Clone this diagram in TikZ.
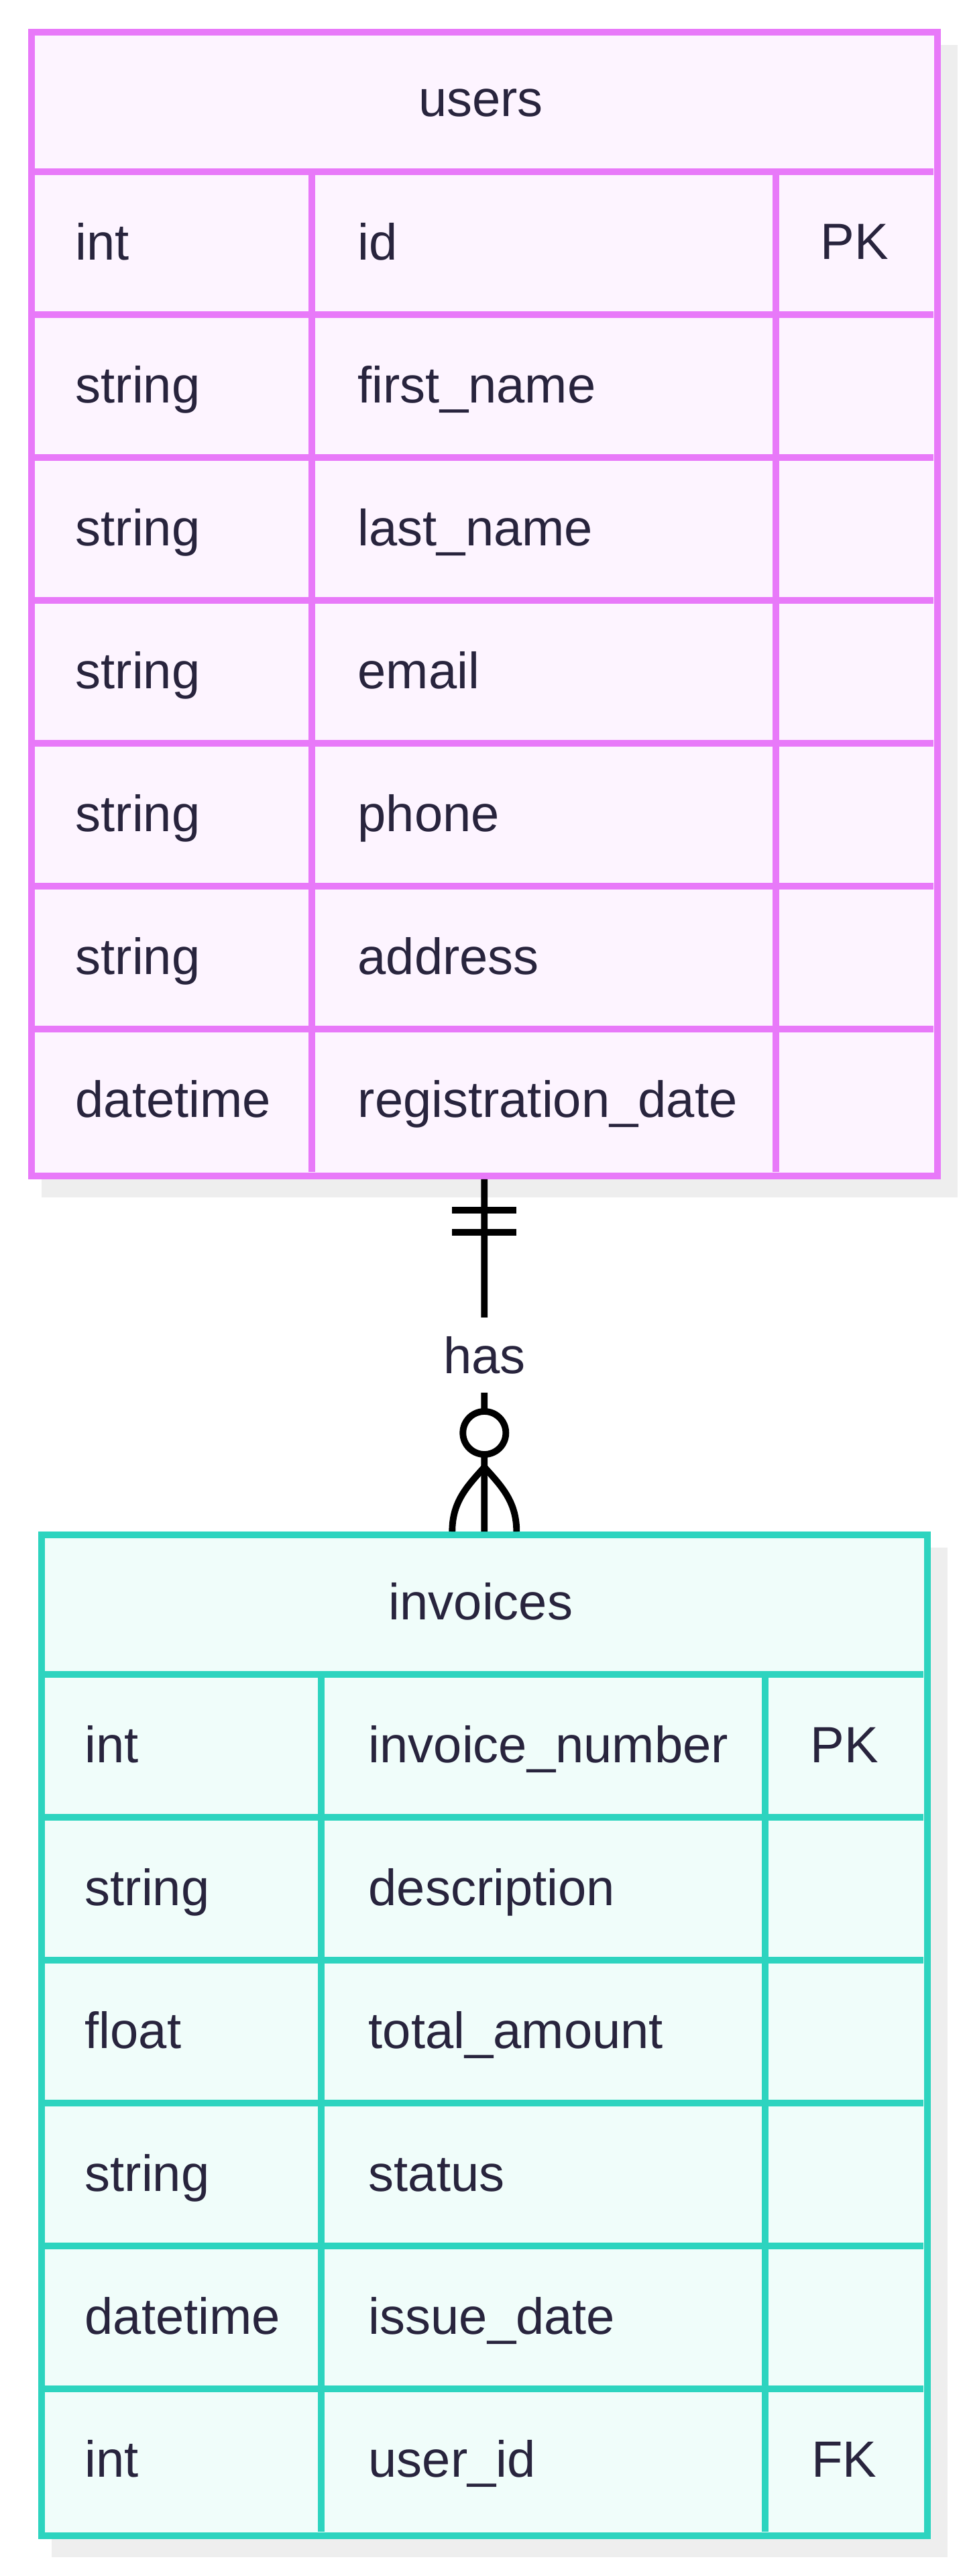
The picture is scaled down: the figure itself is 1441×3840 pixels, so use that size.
\documentclass[tikz,border=0pt]{standalone}
\usepackage{fontspec}
\setmainfont{Liberation Sans}
\usepackage{xcolor}
\usetikzlibrary{backgrounds}

\definecolor{userline}{HTML}{E879F9}
\definecolor{userfill}{HTML}{FDF4FF}
\definecolor{invline}{HTML}{2DD4BF}
\definecolor{invfill}{HTML}{F0FDFA}
\definecolor{shadowgray}{HTML}{EEEEEE}
\definecolor{ink}{HTML}{28243D}

\begin{document}
\begin{tikzpicture}[x=0.01cm,y=-0.01cm,
    tbl/.style={draw=#1, line width=2.8pt, inner sep=0pt, anchor=north west},
    grid/.style={draw=#1, line width=2.8pt},
    txt/.style={text=ink, font=\fontsize{21.6}{26}\selectfont, inner sep=0pt},
    rel/.style={line width=2.8pt, black}]
  \useasboundingbox (0,0) rectangle (1441,3840);

  % users table
  \node[tbl=userline, fill=userfill, minimum width=13.5cm, minimum height=17.04cm] (users) at (42,43) {};
  \foreach \i in {1,...,7}
    \draw[grid=userline] (42,{43+213*\i}) -- (1392,{43+213*\i});
  \draw[grid=userline] (465,256) -- (465,1747);
  \draw[grid=userline] (1157,256) -- (1157,1747);
  \node[txt, anchor=base] (users-title) at (717,174) {users};
  \foreach \t/\n [count=\i] in {int/id, string/first\_name, string/last\_name, string/email,
      string/phone, string/address, datetime/registration\_date} {
    \node[txt, anchor=base west] (ut\i) at (112,{149.5+213*\i+25}) {\t};
    \node[txt, anchor=base west] (un\i) at (533,{149.5+213*\i+25}) {\n};
  }
  \node[txt, anchor=base] (ukey) at (1274,387) {PK};

  % invoices table
  \node[tbl=invline, fill=invfill, minimum width=13.2cm, minimum height=14.91cm] (invoices) at (57,2283) {};
  \foreach \i in {1,...,6}
    \draw[grid=invline] (57,{2283+213*\i}) -- (1377,{2283+213*\i});
  \draw[grid=invline] (479,2496) -- (479,3774);
  \draw[grid=invline] (1141,2496) -- (1141,3774);
  \node[txt, anchor=base] (invoices-title) at (717,2414) {invoices};
  \foreach \t/\n [count=\i] in {int/invoice\_number, string/description, float/total\_amount,
      string/status, datetime/issue\_date, int/user\_id} {
    \node[txt, anchor=base west] (it\i) at (126,{2389.5+213*\i+25}) {\t};
    \node[txt, anchor=base west] (in\i) at (549,{2389.5+213*\i+25}) {\n};
  }
  \node[txt, anchor=base] (ikey) at (1259,2627) {PK};
  \node[txt, anchor=base] (ifk) at (1259,3692) {FK};

  % shadows
  \begin{scope}[on background layer]
    \fill[shadowgray] ([shift={(20,24)}]users.north west) rectangle ([shift={(25,27)}]users.south east);
    \fill[shadowgray] ([shift={(20,24)}]invoices.north west) rectangle ([shift={(25,27)}]invoices.south east);
  \end{scope}

  % relation
  \draw[rel] (users.south) -- node[fill=white, txt, minimum height=1.12cm, inner xsep=4pt] (has) {has} (invoices.north);
  \draw[rel] ([shift={(-48,46)}]users.south) -- ([shift={(48,46)}]users.south);
  \draw[rel] ([shift={(-48,79)}]users.south) -- ([shift={(48,79)}]users.south);
  \draw[rel, fill=white] ([shift={(0,-147)}]invoices.north) circle[radius=0.32cm];
  \coordinate (apex) at ([shift={(0,-96)}]invoices.north);
  \draw[rel] (apex) .. controls ([shift={(-25,28)}]apex) and ([shift={(-48,-45)}]invoices.north) .. ([shift={(-48,0)}]invoices.north);
  \draw[rel] (apex) .. controls ([shift={(25,28)}]apex) and ([shift={(48,-45)}]invoices.north) .. ([shift={(48,0)}]invoices.north);
\end{tikzpicture}
\end{document}
